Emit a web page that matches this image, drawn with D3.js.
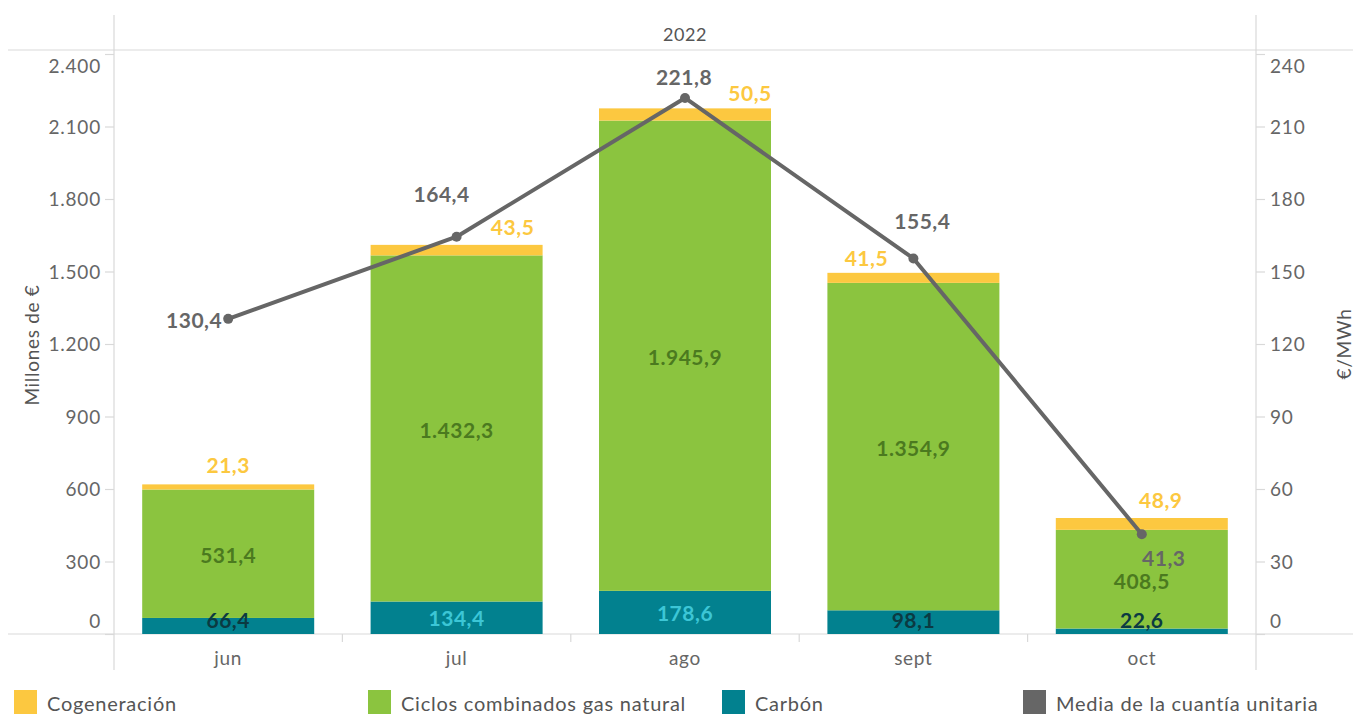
<!DOCTYPE html>
<html><head><meta charset="utf-8">
<script src="https://cdn.jsdelivr.net/npm/d3@7"></script>
<style>
html,body{margin:0;padding:0;background:#fff;}
svg{display:block;font-family:Lato,"Open Sans",sans-serif;}
</style></head>
<body><svg id="c" width="1353" height="714"></svg>
<script>
// ---- data ----
const months = ["jun", "jul", "ago", "sept", "oct"];
const carbon = [66.4, 134.4, 178.6, 98.1, 22.6];
const gas = [531.4, 1432.3, 1945.9, 1354.9, 408.5];
const cogen = [21.3, 43.5, 50.5, 41.5, 48.9];
const unitPrice = [130.4, 164.4, 221.8, 155.4, 41.3];
const leftTicks = [0, 300, 600, 900, 1200, 1500, 1800, 2100, 2400];
const rightTicks = [0, 30, 60, 90, 120, 150, 180, 210, 240];
const seriesNames = ["Cogeneración", "Ciclos combinados gas natural", "Carbón", "Media de la cuantía unitaria"];
const yearLabel = "2022";

// ---- layout / style ----
const colors = {cogen: "#FCC840", gas: "#8BC43F", carbon: "#02818F", line: "#666666"};
const carbonLabelColors = ["#0B3A42", "#3CC6D6", "#3CC6D6", "#0B3A42", "#0B3A42"];
const cogLabelNudge = [[0, -20], [56, -18], [65, -16], [-47, -15], [19, -19]];
const lineLabelNudge = [[-6, 1, "end"], [-15, -43, "middle"], [-1, -21, "middle"], [9, -38, "middle"], [22, 23, "middle"]];
const L = 114, R = 1256, T = 50, B = 634;

const svg = d3.select("#c");
const x = d3.scaleBand().domain(months).range([L, R]).paddingInner(0).paddingOuter(0);
const yL = d3.scaleLinear().domain([0, 2400]).range([B, 54]);
const yR = d3.scaleLinear().domain([0, 240]).range([B, 54]);
const bw = 172;
const fmt = v => d3.format(",.1f")(v).replace(/,/g, "#").replace(".", ",").replace(/#/g, ".");
const fmtInt = v => d3.format(",")(v).replace(/,/g, ".");

// frame lines
const g = svg.append("g");
g.append("line").attr("x1", 8).attr("x2", 1353).attr("y1", T).attr("y2", T).attr("stroke", "#d9d9d9").attr("stroke-width", 1.2);
g.append("line").attr("x1", 8).attr("x2", 1353).attr("y1", B).attr("y2", B).attr("stroke", "#d9d9d9").attr("stroke-width", 1.2);
[L, R].forEach(xx => g.append("line").attr("x1", xx).attr("x2", xx).attr("y1", 15).attr("y2", 670).attr("stroke", "#d9d9d9").attr("stroke-width", 1.2));
months.slice(1).forEach(m => g.append("line").attr("x1", x(m)).attr("x2", x(m)).attr("y1", B).attr("y2", B + 8).attr("stroke", "#d9d9d9").attr("stroke-width", 1.2));

svg.append("text").attr("x", (L + R) / 2).attr("y", 34).attr("text-anchor", "middle").attr("dominant-baseline", "central")
  .attr("font-size", 18).attr("letter-spacing", 0.6).attr("fill", "#555").text(yearLabel);

// axes
const axL = svg.append("g").attr("transform", `translate(${L},0)`).call(d3.axisLeft(yL).tickValues(leftTicks).tickSize(9).tickPadding(5).tickFormat(fmtInt));
const axR = svg.append("g").attr("transform", `translate(${R},0)`).call(d3.axisRight(yR).tickValues(rightTicks).tickSize(9).tickPadding(5));
[axL, axR].forEach(a => {
  a.select(".domain").remove();
  a.selectAll(".tick line").attr("stroke", "#d9d9d9").attr("stroke-width", 1.2);
  a.selectAll(".tick text").attr("font-size", 19).attr("letter-spacing", 0.8).attr("fill", "#666").attr("font-family", "Lato,sans-serif").attr("dy", "0.35em");
  a.selectAll(".tick").filter(d => d === leftTicks[leftTicks.length - 1] || d === rightTicks[rightTicks.length - 1]).select("text").attr("y", 12);
  a.selectAll(".tick").filter(d => d === 0).select("text").attr("y", -13);
});
axL.selectAll(".tick text").attr("x", -13);
axR.selectAll(".tick text").attr("x", 14);

svg.append("text").attr("transform", `translate(31,345) rotate(-90)`).attr("text-anchor", "middle").attr("dominant-baseline", "central")
  .attr("font-size", 19).attr("letter-spacing", 0.7).attr("fill", "#555").text("Millones de €");
svg.append("text").attr("transform", `translate(1343,344) rotate(-90)`).attr("text-anchor", "middle").attr("dominant-baseline", "central")
  .attr("font-size", 19).attr("letter-spacing", 0.7).attr("fill", "#555").text("€/MWh");

// x labels
svg.append("g").selectAll("text").data(months).join("text")
  .attr("x", d => x(d) + x.bandwidth() / 2).attr("y", 657).attr("text-anchor", "middle").attr("dominant-baseline", "central")
  .attr("font-size", 19).attr("letter-spacing", 0.7).attr("fill", "#666").text(d => d);

// stacked bars
const rows = months.map((m, i) => ({m, carbon: carbon[i], gas: gas[i], cogen: cogen[i]}));
const stack = d3.stack().keys(["carbon", "gas", "cogen"])(rows);
const bars = svg.append("g");
stack.forEach(s => {
  bars.selectAll(null).data(s).join("rect")
    .attr("x", d => x(d.data.m) + x.bandwidth() / 2 - bw / 2).attr("width", bw)
    .attr("y", d => yL(d[1])).attr("height", d => yL(d[0]) - yL(d[1]))
    .attr("fill", colors[s.key]);
});

// bar labels
const lab = svg.append("g").attr("font-weight", 700).attr("font-size", 21).attr("letter-spacing", 0.5).attr("text-anchor", "middle").attr("dominant-baseline", "central");
rows.forEach((r, i) => {
  const cx = x(r.m) + x.bandwidth() / 2;
  const cy = Math.min((yL(0) + yL(r.carbon)) / 2, B - 15);
  lab.append("text").attr("x", cx).attr("y", cy).attr("fill", carbonLabelColors[i]).text(fmt(r.carbon));
  lab.append("text").attr("x", cx).attr("y", (yL(r.carbon) + yL(r.carbon + r.gas)) / 2 + 1).attr("fill", "#4B7A1F").text(fmt(r.gas));
  const top = yL(r.carbon + r.gas + r.cogen);
  lab.append("text").attr("x", cx + cogLabelNudge[i][0]).attr("y", top + cogLabelNudge[i][1]).attr("fill", colors.cogen).text(fmt(r.cogen));
});

// line
const pts = months.map((m, i) => [x(m) + x.bandwidth() / 2, yR(unitPrice[i])]);
svg.append("path").attr("d", d3.line()(pts)).attr("fill", "none").attr("stroke", colors.line).attr("stroke-width", 4).attr("stroke-linejoin", "round");
svg.append("g").selectAll("circle").data(pts).join("circle").attr("cx", d => d[0]).attr("cy", d => d[1]).attr("r", 5).attr("fill", colors.line);
svg.append("g").attr("font-weight", 700).attr("font-size", 21).attr("letter-spacing", 0.5).attr("dominant-baseline", "central").attr("fill", colors.line)
  .selectAll("text").data(pts).join("text")
  .attr("x", (d, i) => d[0] + lineLabelNudge[i][0]).attr("y", (d, i) => d[1] + lineLabelNudge[i][1])
  .attr("text-anchor", (d, i) => lineLabelNudge[i][2]).text((d, i) => fmt(unitPrice[i]));

// legend
const legX = [14, 368, 722, 1023];
const legC = [colors.cogen, colors.gas, colors.carbon, colors.line];
const leg = svg.append("g");
seriesNames.forEach((n, i) => {
  leg.append("rect").attr("x", legX[i]).attr("y", 690).attr("width", 23).attr("height", 24).attr("fill", legC[i]);
  leg.append("text").attr("x", legX[i] + 33).attr("y", 703).attr("dominant-baseline", "central").attr("font-size", 20).attr("letter-spacing", 0.75).attr("fill", "#555").text(n);
});
</script></body></html>
